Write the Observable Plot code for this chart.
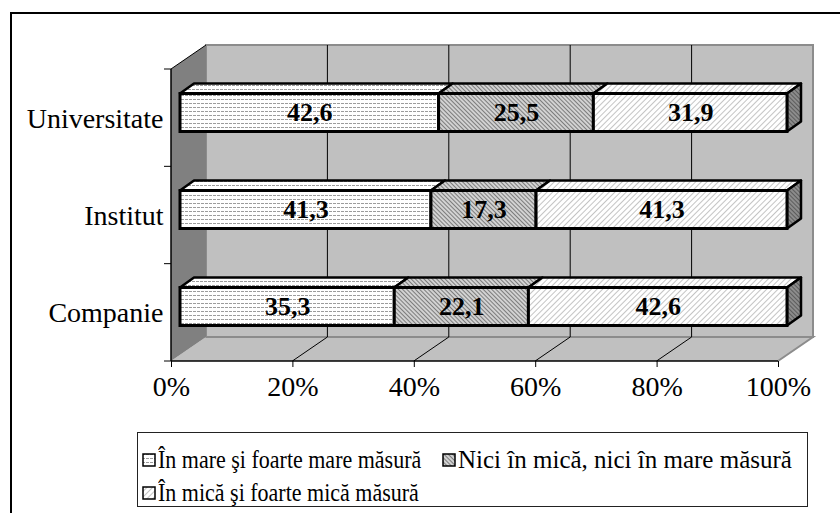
<!DOCTYPE html>
<html>
<head>
<meta charset="utf-8">
<script src="https://cdn.jsdelivr.net/npm/d3@7"></script>
<script src="https://cdn.jsdelivr.net/npm/@observablehq/plot@0.6"></script>
<style>
html, body { margin: 0; padding: 0; background: #fff; }
#wrap { position: relative; width: 840px; height: 513px; overflow: hidden; font-family: "Liberation Serif", "DejaVu Serif", "Times New Roman", Times, serif; color: #000; }
#chart { position: absolute; left: 0; top: 0; }
#frame { position: absolute; left: 10px; top: 12px; width: 900px; height: 600px; border-left: 2px solid #000; border-top: 2px solid #000; pointer-events: none; }
#legend { position: absolute; left: 137px; top: 432px; width: 671px; height: 75px; box-sizing: border-box; border: 1px solid #222; font-size: 25px; }
.item { position: absolute; display: flex; align-items: center; height: 26px; line-height: 26px; white-space: nowrap; }
.item svg { margin-right: 2px; flex: none; }
.item span { display: inline-block; transform-origin: 0 50%; }
</style>
</head>
<body>
<svg width="0" height="0" style="position:absolute">
  <defs>
    <pattern id="p1" width="4" height="4" patternUnits="userSpaceOnUse">
      <rect width="4" height="4" fill="#fff"/>
      <rect x="0" y="1" width="3" height="1" fill="#9c9c9c"/>
    </pattern>
    <pattern id="p2" width="3" height="3" patternUnits="userSpaceOnUse" patternTransform="rotate(-45)">
      <rect width="3" height="3" fill="#d2d2d2"/>
      <rect x="0" y="0" width="1" height="3" fill="#7c7c7c"/>
    </pattern>
    <pattern id="p3" width="4" height="4" patternUnits="userSpaceOnUse" patternTransform="rotate(45)">
      <rect width="4" height="4" fill="#fff"/>
      <rect x="0" y="0" width="1" height="4" fill="#c4c4c4"/>
    </pattern>
    <pattern id="p4" width="3" height="3" patternUnits="userSpaceOnUse" patternTransform="rotate(-45)">
      <rect width="3" height="3" fill="#8c8c8c"/>
      <rect x="0" y="0" width="1" height="3" fill="#5c5c5c"/>
    </pattern>
  </defs>
</svg>
<div id="wrap">
  <div id="chart"></div>
  <div id="legend"></div>
  <div id="frame"></div>
</div>
<script>
// ---- data ----
const categories = ["Universitate", "Institut", "Companie"];
const series = ["În mare şi foarte mare măsură", "Nici în mică, nici în mare măsură", "În mică şi foarte mică măsură"];
const mare = [42.6, 41.3, 35.3];
const nici = [25.5, 17.3, 22.1];
const mica = [31.9, 41.3, 42.6];
const xTicks = [0, 20, 40, 60, 80, 100];
const gridTicks = [20, 40, 60, 80];

// ---- styles ----
const patterns = ["url(#p1)", "url(#p2)", "url(#p3)"];
const endPattern = "url(#p4)";
const WALL = [35, -24];      // depth of the 3D box
const BAR_FRONT = [9, -6];   // bar front face offset
const BAR_DEPTH = [14, -10]; // bar thickness
const BAR_INSET = 29.5;
const FONT = '"Liberation Serif", "DejaVu Serif", "Times New Roman", Times, serif';

// ---- build normalized stacked rows ----
const seriesValues = [mare, nici, mica];
const rows = [];
categories.forEach((cat, i) => {
  const total = seriesValues.reduce((s, arr) => s + arr[i], 0);
  let acc = 0;
  seriesValues.forEach((arr, k) => {
    const v = arr[i];
    const x1 = acc / total * 100;
    acc += v;
    const x2 = acc / total * 100;
    rows.push({cat, k, value: v, x1, x2, last: k === seriesValues.length - 1});
  });
});
const fmt = v => String(v).replace(".", ",");

function wallsMark(index, scales, values, dimensions) {
  const x = scales.x;
  const {height, marginTop, marginBottom} = dimensions;
  const X0 = x(0), X1 = x(100), Y0 = marginTop, Y1 = height - marginBottom;
  const [dx, dy] = WALL;
  const g = d3.create("svg:g");
  g.append("rect").attr("x", X0 + dx).attr("y", Y0 + dy).attr("width", X1 - X0).attr("height", Y1 - Y0)
    .attr("fill", "#c0c0c0").attr("stroke", "#8c8c8c").attr("stroke-width", 2);
  g.append("path").attr("d", `M${X0},${Y1}L${X0 + dx},${Y1 + dy}L${X1 + dx},${Y1 + dy}L${X1},${Y1}Z`)
    .attr("fill", "#c0c0c0").attr("stroke", "none");
  g.append("path").attr("d", `M${X0 + dx},${Y1 + dy}L${X1 + dx},${Y1 + dy}L${X1},${Y1}`)
    .attr("fill", "none").attr("stroke", "#8c8c8c").attr("stroke-width", 2);
  g.append("path").attr("d", `M${X0},${Y0}L${X0 + dx},${Y0 + dy}L${X0 + dx},${Y1 + dy}L${X0},${Y1}Z`)
    .attr("fill", "#808080").attr("stroke", "none");
  for (const t of gridTicks) {
    const xt = x(t);
    g.append("line").attr("x1", xt + dx).attr("x2", xt + dx).attr("y1", Y0 + dy).attr("y2", Y1 + dy)
      .attr("stroke", "#000").attr("stroke-width", 1);
    g.append("line").attr("x1", xt).attr("x2", xt + dx).attr("y1", Y1).attr("y2", Y1 + dy)
      .attr("stroke", "#000").attr("stroke-width", 1);
  }
  g.append("line").attr("x1", X0).attr("x2", X0 + dx).attr("y1", Y0).attr("y2", Y0 + dy).attr("stroke", "#000");
  g.append("line").attr("x1", X0).attr("x2", X0).attr("y1", Y0).attr("y2", Y1).attr("stroke", "#000").attr("stroke-width", 1.5);
  g.append("line").attr("x1", X0).attr("x2", X1).attr("y1", Y1).attr("y2", Y1).attr("stroke", "#000").attr("stroke-width", 1.5);
  const n = categories.length;
  for (let k = 0; k <= n; k++) {
    const yk = Y0 + k * (Y1 - Y0) / n;
    g.append("line").attr("x1", X0 - 7).attr("x2", X0).attr("y1", yk).attr("y2", yk).attr("stroke", "#000");
  }
  return g.node();
}

function barSidesMark(index, scales, values, dimensions) {
  const x = scales.x, y = scales.y;
  const {height, marginTop, marginBottom} = dimensions;
  const bw = (y.bandwidth ? y.bandwidth() : (height - marginTop - marginBottom) / categories.length);
  const [fx, fy] = BAR_FRONT, [bx, by] = BAR_DEPTH;
  const g = d3.create("svg:g").attr("stroke", "#000").attr("stroke-width", 2.5).attr("stroke-linejoin", "round");
  for (const r of rows) {
    const xa = x(r.x1) + fx, xb = x(r.x2) + fx;
    const yt = y(r.cat) + BAR_INSET + fy, yb = y(r.cat) + bw - BAR_INSET + fy;
    g.append("path").attr("d", `M${xa},${yt}L${xa + bx},${yt + by}L${xb + bx},${yt + by}L${xb},${yt}Z`)
      .attr("fill", patterns[r.k]);
    if (r.last) {
      g.append("path").attr("d", `M${xb},${yt}L${xb + bx},${yt + by}L${xb + bx},${yb + by}L${xb},${yb}Z`)
        .attr("fill", endPattern);
    }
  }
  return g.node();
}

const marks = [wallsMark, barSidesMark];
series.forEach((s, k) => {
  marks.push(Plot.barX(rows.filter(r => r.k === k), {
    x1: d => d.x1, x2: d => d.x2, y: d => d.cat,
    fill: patterns[k], stroke: "#000", strokeWidth: 3,
    insetTop: BAR_INSET, insetBottom: BAR_INSET,
    dx: BAR_FRONT[0], dy: BAR_FRONT[1]
  }));
});
marks.push(Plot.text(rows, {
  x: d => (d.x1 + d.x2) / 2, y: d => d.cat, text: d => fmt(d.value),
  dx: BAR_FRONT[0], dy: BAR_FRONT[1], fontWeight: "bold", fontSize: 26, fill: "#000", fontFamily: FONT
}));
marks.push(Plot.text(categories, {
  x: () => 0, y: d => d, text: d => d, textAnchor: "end", dx: -8, fontSize: 28, fill: "#000", fontFamily: FONT
}));
marks.push(Plot.axisX(xTicks, {
  tickSize: 6, tickPadding: 9, tickFormat: d => d + "%", fontSize: 28, label: null, fill: "#000", stroke: "#000", fontFamily: FONT
}));

const plot = Plot.plot({
  width: 840, height: 430,
  marginLeft: 171, marginRight: 62, marginTop: 69, marginBottom: 69,
  x: {domain: [0, 100], label: null},
  y: {domain: categories, padding: 0, axis: null, label: null},
  style: {fontFamily: FONT, fontSize: "24px", background: "transparent", color: "#000", overflow: "visible"},
  marks
});
document.getElementById("chart").appendChild(plot);

// ---- legend ----
const legend = document.getElementById("legend");
const legendPos = [[4, 14, 0.88], [304, 14, 1.0], [4, 47, 0.88]];
series.forEach((s, k) => {
  const it = document.createElement("div");
  it.className = "item";
  it.style.left = legendPos[k][0] + "px";
  it.style.top = legendPos[k][1] + "px";
  it.innerHTML = `<svg width="14" height="14"><rect x="1" y="1" width="12" height="12" fill="${patterns[k]}" stroke="#000" stroke-width="1.5"/></svg><span style="transform:scaleX(${legendPos[k][2]})">${s}</span>`;
  legend.appendChild(it);
});
</script>
</body>
</html>
